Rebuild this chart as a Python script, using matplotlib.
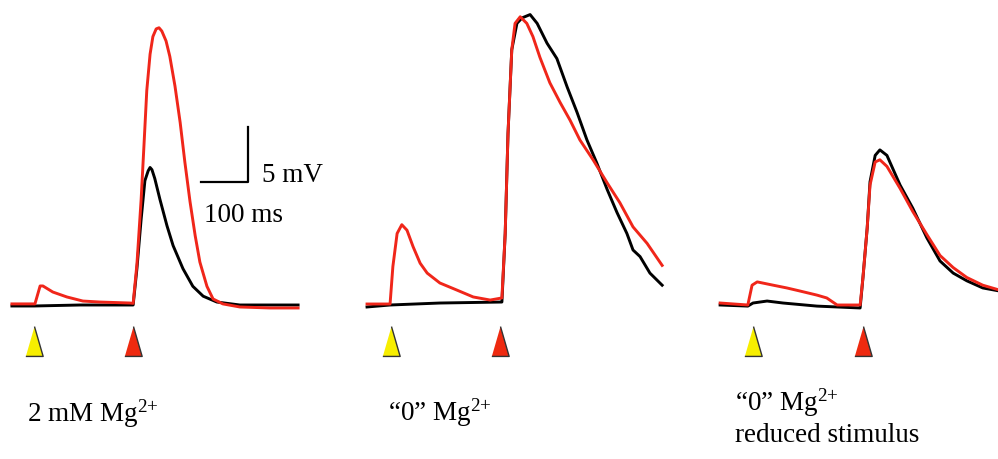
import matplotlib
matplotlib.use("Agg")
from matplotlib import pyplot as plt

# 数据：时间 ms（相对黄色刺激），电压 mV（相对基线）
# panel 1: 2 mM Mg2+
p1_red_t = [-47, -2, 2, 13, 19, 40, 70, 104, 140, 204, 211, 219, 228, 234, 240, 247, 253, 260, 266, 272,
            281, 289, 300, 311, 321, 332, 343, 353, 368, 381, 402, 438, 502, 562]
p1_red_v = [0.1, 0.1, 0.1, 1.73, 1.73, 1.18, 0.73, 0.36, 0.27, 0.18, 0.15, 3.7, 9.6, 14.5, 19.5, 22.8, 24.4,
            25.1, 25.2, 24.9, 24.0, 22.6, 19.9, 16.6, 13.0, 9.4, 6.3, 3.9, 1.7, 0.55, 0.1, -0.18, -0.27, -0.27]
p1_blk_t = [-47, 0, 98, 211, 219, 228, 236, 243, 247, 251, 257, 268, 283, 296, 317, 338, 360, 389, 438, 562]
p1_blk_v = [-0.09, -0.09, 0, 0, 3.3, 7.8, 11.3, 12.2, 12.5, 12.3, 11.5, 9.6, 7.2, 5.4, 3.3, 1.7, 0.8, 0.27,
            0, 0]

# panel 2: "0" Mg2+
p2_red_t = [-51, -2, 4, 13, 23, 34, 47, 62, 77, 104, 140, 175, 211, 236, 243, 249, 257, 264, 275, 289,
            302, 317, 338, 360, 381, 402, 430, 460, 487, 515, 545, 577]
p2_red_v = [0.09, 0.09, 3.5, 6.5, 7.3, 6.8, 5.3, 3.8, 2.9, 2.0, 1.36, 0.73, 0.45, 0.64, 6.5, 15.6, 23.2,
            25.6, 26.2, 25.6, 24.4, 22.5, 20.2, 18.4, 16.8, 15.0, 13.2, 11.1, 9.3, 7.1, 5.6, 3.6]
p2_blk_t = [-51, -2, 104, 236, 243, 249, 257, 268, 279, 296, 311, 332, 353, 375, 396, 417, 438, 460,
            481, 502, 515, 530, 551, 577]
p2_blk_v = [-0.18, 0, 0.18, 0.27, 6.5, 15.6, 23.2, 25.6, 26.1, 26.4, 25.6, 23.8, 22.4, 19.8, 17.5, 15.0,
            12.9, 10.5, 8.4, 6.5, 5.0, 4.4, 2.9, 1.8]

# panel 3: "0" Mg2+, reduced stimulus
p3_red_t = [-70, -11, -2, 9, 43, 72, 100, 136, 157, 179, 228, 234, 243, 249, 260, 270, 285, 313, 340,
            370, 398, 426, 455, 489, 521]
p3_red_v = [0.18, 0, 1.8, 2.1, 1.8, 1.55, 1.27, 0.9, 0.64, 0, 0, 2.5, 7.0, 10.9, 13.0, 13.2, 12.6, 10.6,
            8.5, 6.4, 4.5, 3.4, 2.5, 1.8, 1.4]
p3_blk_t = [-70, -11, 0, 30, 64, 136, 228, 234, 243, 249, 260, 270, 285, 313, 340, 370, 398, 426, 455,
            489, 521]
p3_blk_v = [0, -0.1, 0.18, 0.36, 0.18, -0.1, -0.27, 2.5, 7.0, 11.2, 13.6, 14.1, 13.6, 10.9, 8.8, 6.1,
            4.0, 2.9, 2.2, 1.55, 1.3]

# 刺激时间 (ms)
yellow_stim = [0, 0, 0]
red_stim = [211, 232, 234]

sup = "$^{2{+}}$"
labels = [["2 mM Mg" + sup], ["\u201c0\u201d Mg" + sup], ["\u201c0\u201d Mg" + sup, "reduced stimulus"]]

# 布局（像素）
W, H = 998, 460
MS_PX = 2.128   # ms per pixel
MV_PX = 0.0909  # mV per pixel
base_px = 306
panel_x = [34, 391, 753]          # 黄色刺激的像素位置
label_pos = [(27, 422), (388, 421), (735, 411)]
LINE_GAP = 31
RED = "#f0261a"
FS = 19.5

plt.rcParams["font.family"] = ["Liberation Serif", "DejaVu Serif"]
plt.rcParams["mathtext.fontset"] = "custom"
plt.rcParams["mathtext.rm"] = "Liberation Serif"
plt.rcParams["mathtext.it"] = "Liberation Serif"
plt.rcParams["mathtext.default"] = "regular"

fig = plt.figure(figsize=(W / 100, H / 100), dpi=100)
ax = fig.add_axes([0, 0, 1, 1])
ax.set_xlim(0, W * MS_PX)
ax.set_ylim(-(H - base_px) * MV_PX, base_px * MV_PX)
ax.axis("off")

traces = [(p1_blk_t, p1_blk_v, p1_red_t, p1_red_v),
          (p2_blk_t, p2_blk_v, p2_red_t, p2_red_v),
          (p3_blk_t, p3_blk_v, p3_red_t, p3_red_v)]

tri = [(-0.58, -1), (0.58, -1), (0, 1)]
tri_y = -(342 - base_px) * MV_PX

for i, (bt, bv, rt, rv) in enumerate(traces):
    off = panel_x[i] * MS_PX
    ax.plot([t + off for t in bt], bv, color="black", lw=2.1, solid_joinstyle="round")
    ax.plot([t + off for t in rt], rv, color=RED, lw=2.1, solid_joinstyle="round")
    ax.plot(yellow_stim[i] + off, tri_y, marker=tri, ms=21.5, color="#f7ee00",
            mec="#333333", mew=1.0)
    ax.plot(red_stim[i] + off, tri_y, marker=tri, ms=21.5, color="#ee2a10",
            mec="#333333", mew=1.0)
    lx, ly = label_pos[i]
    for j, line in enumerate(labels[i]):
        fig.text(lx / W, 1 - (ly + j * LINE_GAP) / H, line, fontsize=FS, ha="left", va="baseline")

# 比例尺 5 mV / 100 ms
cx, cy = 248 * MS_PX, (base_px - 183) * MV_PX
ax.plot([cx - 100, cx, cx], [cy, cy, cy + 5], color="black", lw=1.6)
fig.text(262 / W, 1 - 175 / H, "5 mV", fontsize=FS, ha="left", va="center")
fig.text(204 / W, 1 - 216 / H, "100 ms", fontsize=FS, ha="left", va="center")

fig.savefig("out.png", dpi=100)
